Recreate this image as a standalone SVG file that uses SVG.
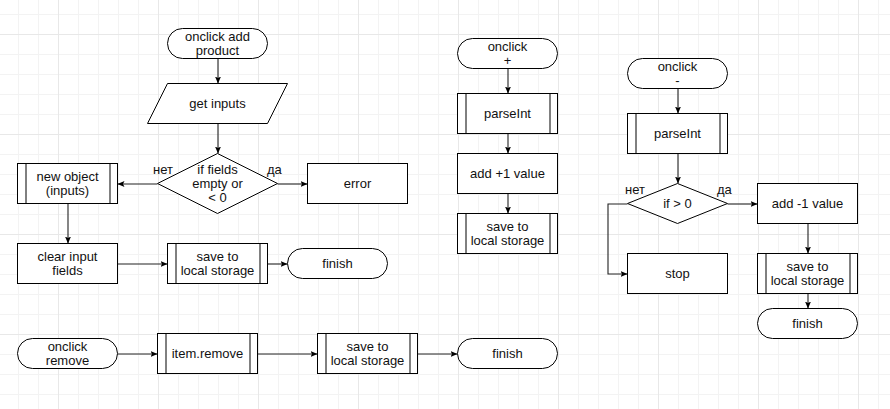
<svg xmlns="http://www.w3.org/2000/svg" width="890" height="409" viewBox="0 0 890 409">
<style>
.n{fill:#fff;stroke:#000;stroke-width:1}
.bar{stroke:#000;stroke-width:1;fill:none}
.t{font-family:"Liberation Sans",Arial,sans-serif;font-size:13px;fill:#111;text-anchor:middle}
.l{font-family:"Liberation Sans",Arial,sans-serif;font-size:13px;fill:#111}
.c{fill:none;stroke:#222;stroke-width:1.1;marker-end:url(#arr)}
</style>
<defs>
<pattern id="minor" patternUnits="userSpaceOnUse" x="18" y="14" width="20" height="20">
<rect x="0" y="0" width="1" height="20" fill="#f3f3f3"/>
<rect x="0" y="0" width="20" height="1" fill="#f3f3f3"/>
</pattern>
<pattern id="major" patternUnits="userSpaceOnUse" x="58" y="34" width="100" height="100">
<rect x="0" y="0" width="1" height="100" fill="#e8e8e8"/>
<rect x="0" y="0" width="100" height="1" fill="#e8e8e8"/>
</pattern>
<marker id="arr" markerUnits="userSpaceOnUse" markerWidth="8" markerHeight="8" refX="7" refY="3" orient="auto">
<path d="M0,0 L7,3 L0,6 L1.5,3 z" fill="#000"/>
</marker>
</defs>
<g id="grid">
<rect width="890" height="409" fill="#fff"/>
<rect width="890" height="409" fill="url(#minor)"/>
<rect width="890" height="409" fill="url(#major)"/>
</g>
<g id="connectors">
<path class="c" d="M218,58.5 V83.5"/>
<path class="c" d="M218,123.5 V153.5"/>
<path class="c" d="M157.5,184 H117.5"/>
<path class="c" d="M277.5,184 H307.5"/>
<path class="c" d="M68,203.5 V243.5"/>
<path class="c" d="M117.5,264 H167.5"/>
<path class="c" d="M267.5,264 H287.5"/>
<path class="c" d="M117.5,354 H157.5"/>
<path class="c" d="M257.5,354 H317.5"/>
<path class="c" d="M417.5,354 H457.5"/>
<path class="c" d="M508,68.5 V93.5"/>
<path class="c" d="M508,133.5 V153.5"/>
<path class="c" d="M508,193.5 V213.5"/>
<path class="c" d="M678,88.5 V113.5"/>
<path class="c" d="M678,153.5 V183.5"/>
<path class="c" d="M727.5,204 H757.5"/>
<path class="c" d="M627.5,204 H608 V274 H627.5"/>
<path class="c" d="M808,223.5 V253.5"/>
<path class="c" d="M808,293.5 V308.5"/>
<text class="l" x="173" y="174" text-anchor="end">нет</text>
<text class="l" x="267" y="174">да</text>
<text class="l" x="645" y="194" text-anchor="end">нет</text>
<text class="l" x="717" y="194">да</text>
</g>
<g id="start-add">
<rect class="n" x="167.5" y="28.5" width="100" height="30" rx="15"/>
<text class="t" x="217.5" y="41">onclick add</text>
<text class="t" x="217.5" y="55">product</text>
</g>
<g id="get-inputs">
<polygon class="n" points="167.5,83.5 287.5,83.5 267.5,123.5 147.5,123.5"/>
<text class="t" x="217.5" y="108">get inputs</text>
</g>
<g id="check-fields">
<polygon class="n" points="217.5,153.5 277.5,183.5 217.5,213.5 157.5,183.5"/>
<text class="t" x="217.5" y="174">if fields</text>
<text class="t" x="217.5" y="188">empty or</text>
<text class="t" x="217.5" y="202">&lt; 0</text>
</g>
<g id="new-object">
<rect class="n" x="17.5" y="163.5" width="100" height="40"/>
<path class="bar" d="M26,163.5 V203.5 M110,163.5 V203.5"/>
<text class="t" x="67.5" y="181">new object</text>
<text class="t" x="67.5" y="195">(inputs)</text>
</g>
<g id="error">
<rect class="n" x="307.5" y="163.5" width="100" height="40"/>
<text class="t" x="357.5" y="188">error</text>
</g>
<g id="clear-fields">
<rect class="n" x="17.5" y="243.5" width="100" height="40"/>
<text class="t" x="67.5" y="261">clear input</text>
<text class="t" x="67.5" y="275">fields</text>
</g>
<g id="save-add">
<rect class="n" x="167.5" y="243.5" width="100" height="40"/>
<path class="bar" d="M176,243.5 V283.5 M260,243.5 V283.5"/>
<text class="t" x="217.5" y="261">save to</text>
<text class="t" x="217.5" y="275">local storage</text>
</g>
<g id="finish-add">
<rect class="n" x="287.5" y="248.5" width="100" height="30" rx="15"/>
<text class="t" x="337.5" y="268">finish</text>
</g>
<g id="start-remove">
<rect class="n" x="17.5" y="338.5" width="100" height="30" rx="15"/>
<text class="t" x="67.5" y="351">onclick</text>
<text class="t" x="67.5" y="365">remove</text>
</g>
<g id="item-remove">
<rect class="n" x="157.5" y="333.5" width="100" height="40"/>
<path class="bar" d="M166,333.5 V373.5 M250,333.5 V373.5"/>
<text class="t" x="207.5" y="358">item.remove</text>
</g>
<g id="save-remove">
<rect class="n" x="317.5" y="333.5" width="100" height="40"/>
<path class="bar" d="M326,333.5 V373.5 M410,333.5 V373.5"/>
<text class="t" x="367.5" y="351">save to</text>
<text class="t" x="367.5" y="365">local storage</text>
</g>
<g id="finish-remove">
<rect class="n" x="457.5" y="338.5" width="100" height="30" rx="15"/>
<text class="t" x="507.5" y="358">finish</text>
</g>
<g id="start-plus">
<rect class="n" x="457.5" y="38.5" width="100" height="30" rx="15"/>
<text class="t" x="507.5" y="51">onclick</text>
<text class="t" x="507.5" y="65">+</text>
</g>
<g id="parse-plus">
<rect class="n" x="457.5" y="93.5" width="100" height="40"/>
<path class="bar" d="M466,93.5 V133.5 M550,93.5 V133.5"/>
<text class="t" x="507.5" y="118">parseInt</text>
</g>
<g id="add-plus">
<rect class="n" x="457.5" y="153.5" width="100" height="40"/>
<text class="t" x="507.5" y="178">add +1 value</text>
</g>
<g id="save-plus">
<rect class="n" x="457.5" y="213.5" width="100" height="40"/>
<path class="bar" d="M466,213.5 V253.5 M550,213.5 V253.5"/>
<text class="t" x="507.5" y="231">save to</text>
<text class="t" x="507.5" y="245">local storage</text>
</g>
<g id="start-minus">
<rect class="n" x="627.5" y="58.5" width="100" height="30" rx="15"/>
<text class="t" x="677.5" y="71">onclick</text>
<text class="t" x="677.5" y="85">-</text>
</g>
<g id="parse-minus">
<rect class="n" x="627.5" y="113.5" width="100" height="40"/>
<path class="bar" d="M636,113.5 V153.5 M720,113.5 V153.5"/>
<text class="t" x="677.5" y="138">parseInt</text>
</g>
<g id="check-positive">
<polygon class="n" points="677.5,183.5 727.5,203.5 677.5,223.5 627.5,203.5"/>
<text class="t" x="677.5" y="208">if &gt; 0</text>
</g>
<g id="add-minus">
<rect class="n" x="757.5" y="183.5" width="100" height="40"/>
<text class="t" x="807.5" y="208">add -1 value</text>
</g>
<g id="stop">
<rect class="n" x="627.5" y="253.5" width="100" height="40"/>
<text class="t" x="677.5" y="278">stop</text>
</g>
<g id="save-minus">
<rect class="n" x="757.5" y="253.5" width="100" height="40"/>
<path class="bar" d="M766,253.5 V293.5 M850,253.5 V293.5"/>
<text class="t" x="807.5" y="271">save to</text>
<text class="t" x="807.5" y="285">local storage</text>
</g>
<g id="finish-minus">
<rect class="n" x="757.5" y="308.5" width="100" height="30" rx="15"/>
<text class="t" x="807.5" y="328">finish</text>
</g>
</svg>
